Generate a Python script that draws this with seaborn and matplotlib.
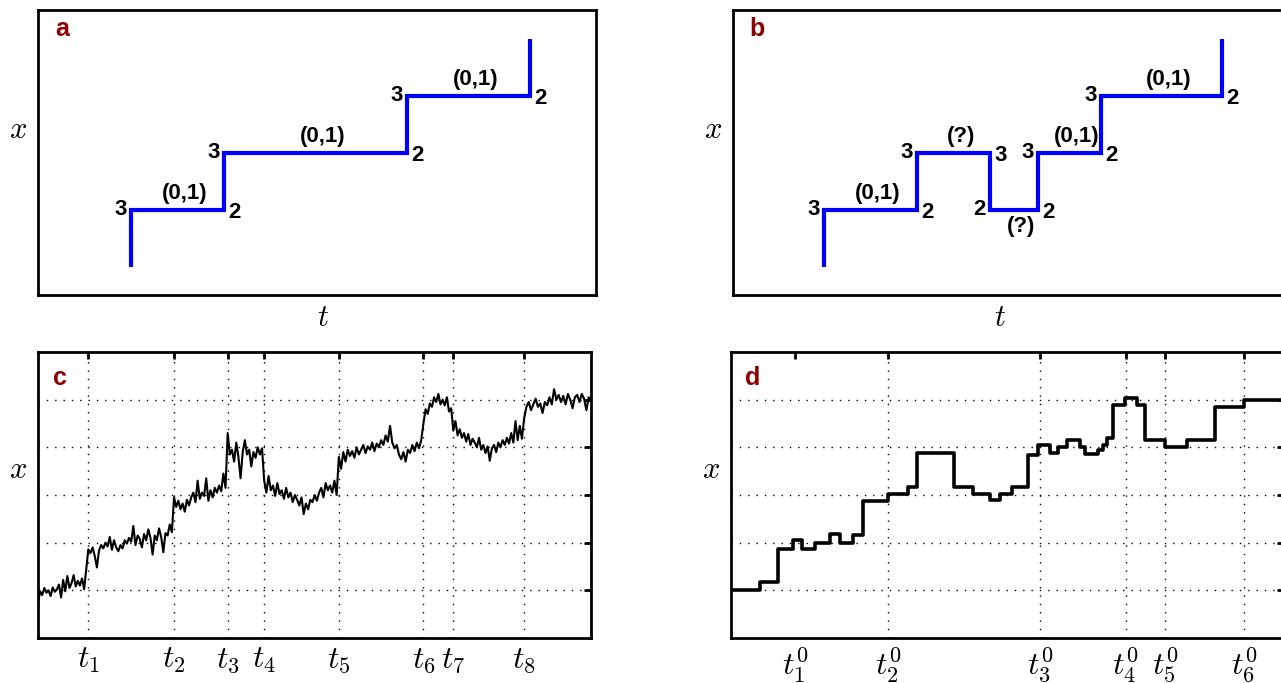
import numpy as np
import pandas as pd
import matplotlib
matplotlib.use("Agg")
import matplotlib.pyplot as plt
import seaborn as sns

# ---------------- data ----------------
# panel a: step corners (t) and levels (x)
a_corner_t = [1.67, 3.33, 6.61, 8.82]
a_levels = [1, 3, 5, 7, 9]
a_left_lab = ["3", "3", "3"]
a_right_lab = ["2", "2", "2"]
a_mid_lab = ["(0,1)", "(0,1)", "(0,1)"]
a_mid_pos = ["above", "above", "above"]

# panel b
b_corner_t = [1.63, 3.30, 4.61, 5.47, 6.59, 8.76]
b_levels = [1, 3, 5, 3, 5, 7, 9]
b_left_lab = ["3", "3", "2", "3", "3"]
b_right_lab = ["2", "3", "2", "2", "2"]
b_mid_lab = ["(0,1)", "(?)", "(?)", "(0,1)", "(0,1)"]
b_mid_pos = ["above", "above", "below", "above", "above"]

# panel c: change times and noisy trace per segment
c_ticks = [0.91, 2.46, 3.43, 4.09, 5.44, 6.97, 7.51, 8.79]
c_tick_labels = ["$t_1$", "$t_2$", "$t_3$", "$t_4$", "$t_5$", "$t_6$", "$t_7$", "$t_8$"]
c_seg0 = [0.72, 0.98, 0.9, 1.05, 0.95, 1.0, 0.88, 1.06, 0.97, 1.02, 1.12, 0.85, 1.22, 0.98,
          1.3, 1.05, 1.15, 1.32, 1.08, 1.2, 1.1, 1.25, 1.02, 1.45]
c_seg1 = [1.86, 1.78, 1.9, 1.72, 1.48, 1.84, 1.95, 1.88, 2.0, 1.92, 2.12, 1.85, 2.05, 1.9,
          1.82, 1.95, 1.88, 2.05, 1.98, 2.1, 2.02, 2.35, 1.95, 2.15, 2.08, 1.9, 2.18, 2.05,
          2.28, 2.1, 1.75, 2.15, 2.05, 2.3, 2.12, 1.8, 2.2, 2.15, 2.38, 2.22]
c_seg2 = [2.95, 2.75, 2.88, 2.7, 2.82, 2.65, 2.9, 2.78, 2.95, 3.05, 2.85, 3.3, 2.92, 3.05,
          2.98, 3.35, 2.88, 3.1, 2.95, 3.15, 3.05, 3.2, 3.08, 3.45, 3.15]
c_seg3 = [4.3, 3.85, 3.95, 3.7, 4.1, 3.8, 3.35, 3.9, 4.15, 3.85, 3.95, 3.6, 3.9, 3.78, 4.0,
          3.85, 3.98]
c_seg4 = [3.3, 3.05, 3.4, 3.1, 3.2, 2.98, 3.25, 3.02, 3.1, 2.92, 3.15, 2.95, 3.05, 2.85,
          3.0, 2.9, 2.78, 2.95, 2.6, 2.82, 2.7, 2.9, 2.85, 3.0, 2.88, 3.05, 3.15, 2.95, 3.25,
          3.1, 3.2, 3.05, 3.3, 3.0]
c_seg5 = [3.8, 3.55, 3.9, 3.7, 3.95, 3.82, 3.92, 3.78, 4.0, 3.85, 3.95, 4.05, 3.88, 4.02,
          3.95, 4.1, 3.92, 4.08, 4.0, 4.15, 4.05, 4.25, 4.12, 4.45, 4.1, 3.98, 4.05, 3.85,
          3.75, 3.9, 3.7, 3.95, 3.88, 4.05, 3.92, 4.1, 3.98, 4.15]
c_seg6 = [4.5, 4.8, 4.7, 4.92, 4.85, 5.05, 4.95, 5.12, 4.9, 5.0, 4.88, 5.05, 4.75, 4.82]
c_seg7 = [4.35, 4.55, 4.25, 4.38, 4.2, 4.3, 4.12, 4.28, 4.05, 4.18, 4.1, 4.0, 4.2, 3.95,
          4.05, 3.88, 4.02, 3.72, 3.98, 4.05, 3.9, 4.1, 4.0, 4.15, 4.05, 4.2, 4.08, 4.3, 4.1,
          4.55, 4.15, 4.45, 4.18]
c_seg8 = [4.6, 4.85, 4.95, 4.78, 4.9, 5.02, 4.85, 4.92, 4.72, 4.95, 4.88, 5.05, 4.9, 5.22,
          5.0, 5.1, 4.95, 5.08, 4.9, 5.12, 5.0, 4.82, 5.05, 5.1, 4.95, 5.12, 5.02, 4.78, 5.05,
          4.98]

# panel d: step trace (change times, levels)
d_ticks = [1.16, 2.84, 5.59, 7.14, 7.85, 9.28]
d_tick_labels = ["$t_1^0$", "$t_2^0$", "$t_3^0$", "$t_4^0$", "$t_5^0$", "$t_6^0$"]
d_t = [0.0, 0.52, 0.85, 1.12, 1.28, 1.52, 1.79, 1.97, 2.21, 2.39, 2.84, 3.20, 3.36, 4.03,
       4.38, 4.68, 4.86, 5.08, 5.37, 5.55, 5.77, 5.91, 6.08, 6.31, 6.40, 6.53, 6.64, 6.73,
       6.80, 6.91, 7.12, 7.34, 7.49, 7.85, 8.25, 8.75, 9.28, 10.0]
d_x = [1.0, 1.17, 1.87, 2.05, 1.87, 2.0, 2.18, 2.0, 2.16, 2.87, 3.02, 3.17, 3.88, 3.17,
       3.02, 2.9, 3.02, 3.17, 3.84, 4.05, 3.88, 4.0, 4.15, 4.0, 3.85, 3.85, 3.95, 4.05,
       4.2, 4.88, 5.03, 4.88, 4.15, 4.0, 4.15, 4.84, 5.0, 5.0]

# ---------------- style ----------------
sns.set_style("white")
plt.rcParams["font.family"] = ["Liberation Sans", "DejaVu Sans"]
plt.rcParams["mathtext.fontset"] = "cm"
plt.rcParams["text.color"] = "black"

W, H = 1281, 683
fig = plt.figure(figsize=(W / 100, H / 100), dpi=100)


def px_axes(left, top, right, bottom):
    return fig.add_axes([left / W, (H - bottom) / H, (right - left) / W, (bottom - top) / H])


ax_a = px_axes(38, 10, 596, 295)
ax_b = px_axes(733, 10, 1291, 295)
ax_c = px_axes(38, 352, 591, 638)
ax_d = px_axes(731, 352, 1284, 638)

RED = "#8b0000"
lab_font = dict(fontfamily="Liberation Sans", fontweight="bold", fontsize=16, color="black")


def step_panel(ax, corners, levels, left_lab, right_lab, mid_lab, mid_pos, letter):
    t = np.repeat(corners, 2)
    x = np.repeat(levels, 2)[1:-1]
    df = pd.DataFrame({"t": t, "x": x})
    sns.lineplot(data=df, x="t", y="x", ax=ax, sort=False, estimator=None,
                 color=(0, 0, 1), lw=3.0, solid_capstyle="butt", solid_joinstyle="miter")
    ax.set_xlim(0, 10)
    ax.set_ylim(0, 10)
    for i in range(len(corners) - 1):
        lev = levels[i + 1]
        ax.annotate(left_lab[i], (corners[i], lev), xytext=(-3, 0), textcoords="offset points",
                    ha="right", va="center", **lab_font)
        ax.annotate(right_lab[i], (corners[i + 1], lev), xytext=(3, -2), textcoords="offset points",
                    ha="left", va="center", **lab_font)
        mid = (corners[i] + corners[i + 1]) / 2
        if mid_pos[i] == "above":
            ax.annotate(mid_lab[i], (mid, lev), xytext=(5, 4), textcoords="offset points",
                        ha="center", va="bottom", **lab_font)
        else:
            ax.annotate(mid_lab[i], (mid, lev), xytext=(5, -5), textcoords="offset points",
                        ha="center", va="top", **lab_font)
    ax.set_xticks([])
    ax.set_yticks([])
    ax.set_xlabel("$t$", fontsize=22, va="center", color="black")
    ax.xaxis.set_label_coords(0.5, -0.08)
    ax.set_ylabel("$x$", fontsize=22, rotation=0, va="center", ha="center", color="black")
    ax.yaxis.set_label_coords(-0.036, 0.58)
    ax.text(0.043, 0.935, letter, transform=ax.transAxes, color=RED, fontsize=18,
            fontweight="bold", ha="center", va="center")


def trace_panel(ax, letter, ticks, labels):
    ax.set_xlim(0, 10)
    ax.set_ylim(0, 6)
    ax.set_yticks([1, 2, 3, 4, 5])
    ax.set_xticks(ticks)
    ax.set_xticklabels(labels, fontsize=23)
    ax.tick_params(direction="in", length=5, width=2, top=True, right=True,
                   labelleft=False, pad=5, colors="black")
    ax.grid(True, color="black", linestyle=(0, (1, 5)), lw=1.0)
    ax.set_xlabel("")
    ax.set_ylabel("$x$", fontsize=22, rotation=0, va="center", ha="center", color="black")
    ax.yaxis.set_label_coords(-0.036, 0.587)
    ax.text(0.04, 0.91, letter, transform=ax.transAxes, color=RED, fontsize=18,
            fontweight="bold", ha="center", va="center")


step_panel(ax_a, a_corner_t, a_levels, a_left_lab, a_right_lab, a_mid_lab, a_mid_pos, "a")
ax_a.xaxis.set_label_coords(0.51, -0.08)
step_panel(ax_b, b_corner_t, b_levels, b_left_lab, b_right_lab, b_mid_lab, b_mid_pos, "b")
ax_b.xaxis.set_label_coords(0.478, -0.08)

# panel c trace
segs = [c_seg0, c_seg1, c_seg2, c_seg3, c_seg4, c_seg5, c_seg6, c_seg7, c_seg8]
bounds = [0.0] + c_ticks + [10.0]
t_all, x_all = [], []
for k, seg in enumerate(segs):
    tt = np.linspace(bounds[k], bounds[k + 1], len(seg), endpoint=(k == len(segs) - 1))
    t_all.extend(tt)
    x_all.extend(seg)
df_c = pd.DataFrame({"t": t_all, "x": x_all})
sns.lineplot(data=df_c, x="t", y="x", ax=ax_c, sort=False, estimator=None, color="black", lw=1.5)
trace_panel(ax_c, "c", c_ticks, c_tick_labels)

# panel d
df_d = pd.DataFrame({"t": d_t, "x": d_x})
sns.lineplot(data=df_d, x="t", y="x", ax=ax_d, sort=False, estimator=None, color="black",
             lw=2.6, drawstyle="steps-post")
trace_panel(ax_d, "d", d_ticks, d_tick_labels)
ax_d.get_xaxis().get_major_ticks()[0].gridline.set_visible(False)

for ax in (ax_a, ax_b, ax_c, ax_d):
    for sp in ax.spines.values():
        sp.set_visible(True)
        sp.set_color("black")
        sp.set_linewidth(2.0)

fig.savefig("out.png", dpi=100)
